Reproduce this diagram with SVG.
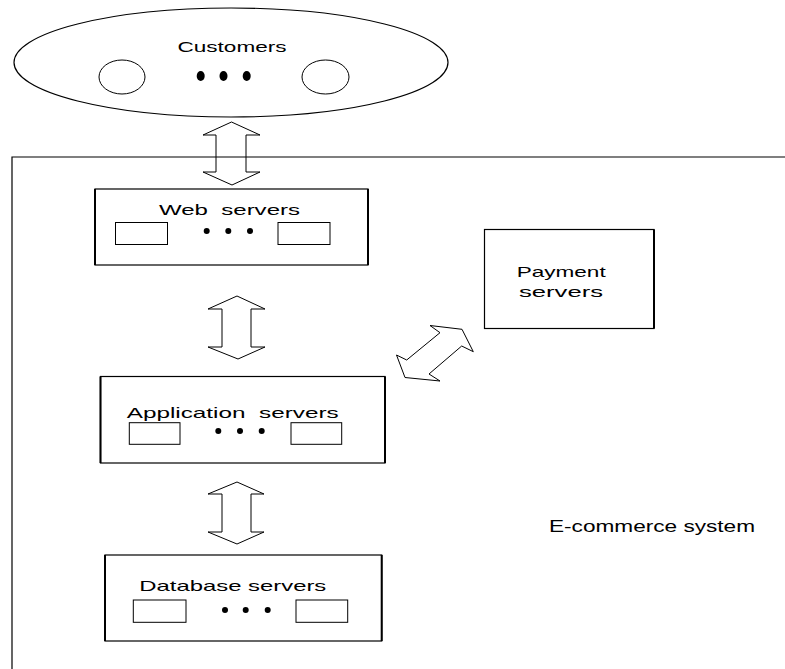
<svg xmlns="http://www.w3.org/2000/svg" width="785" height="669" viewBox="0 0 785 669">
<style>
.ln{fill:none;stroke:#000;stroke-width:1.2}
.sd{fill:none;stroke:#000;stroke-width:2}
.sm{fill:#fff;stroke:#000;stroke-width:1}
.ar{fill:none;stroke:#000;stroke-width:1}
.dot{fill:#000}
.t{font-family:"Liberation Sans",Arial,sans-serif;fill:#000;white-space:pre}
</style>
<rect width="785" height="669" fill="#fff"/>
<g id="system">
<polyline class="ln" points="785,157 12,157 12,669"/>
<text class="t" x="549" y="532" font-size="17" textLength="206" lengthAdjust="spacingAndGlyphs">E-commerce system</text>
</g>
<g id="customers">
<ellipse class="ln" cx="231" cy="62.5" rx="217" ry="54.5"/>
<text class="t" x="177.5" y="52" font-size="14" textLength="109" lengthAdjust="spacingAndGlyphs">Customers</text>
<ellipse class="sm" cx="122" cy="77" rx="23" ry="17"/>
<ellipse class="sm" cx="325.5" cy="77" rx="23.5" ry="17"/>
<ellipse class="dot" cx="200.7" cy="76" rx="4" ry="5"/>
<ellipse class="dot" cx="223.5" cy="76" rx="4" ry="5"/>
<ellipse class="dot" cx="246.7" cy="76" rx="4" ry="5"/>
</g>
<g id="web">
<rect class="ln" x="95" y="189" width="273" height="76"/>
<line class="sd" x1="95" y1="189" x2="95" y2="265"/>
<line class="sd" x1="368" y1="189" x2="368" y2="265"/>
<text class="t" x="159" y="215" font-size="15" textLength="141" lengthAdjust="spacingAndGlyphs" xml:space="preserve">Web  servers</text>
<rect class="sm" x="115.5" y="222.5" width="52" height="22"/>
<rect class="sm" x="278" y="222.5" width="52" height="22"/>
<circle class="dot" cx="206.7" cy="231" r="3"/>
<circle class="dot" cx="228.3" cy="231" r="3"/>
<circle class="dot" cx="250" cy="231" r="3"/>
</g>
<g id="payment">
<rect class="ln" x="484.5" y="229.5" width="169.5" height="99"/>
<line class="sd" x1="654" y1="229.5" x2="654" y2="328.5"/>
<text class="t" x="516.7" y="277" font-size="15" textLength="89" lengthAdjust="spacingAndGlyphs">Payment</text>
<text class="t" x="519" y="297" font-size="15" textLength="84" lengthAdjust="spacingAndGlyphs">servers</text>
</g>
<g id="application">
<rect class="ln" x="100.5" y="376.5" width="284.5" height="86.5"/>
<line class="sd" x1="100.5" y1="376.5" x2="100.5" y2="463"/>
<line class="sd" x1="385" y1="376.5" x2="385" y2="463"/>
<text class="t" x="126.7" y="417.5" font-size="15" textLength="212" lengthAdjust="spacingAndGlyphs" xml:space="preserve">Application  servers</text>
<rect class="sm" x="129.3" y="422.7" width="50.7" height="21.6"/>
<rect class="sm" x="291" y="422.7" width="50.7" height="21.6"/>
<circle class="dot" cx="218.3" cy="431" r="3"/>
<circle class="dot" cx="240" cy="431" r="3"/>
<circle class="dot" cx="261.7" cy="431" r="3"/>
</g>
<g id="database">
<rect class="ln" x="105" y="555" width="276.7" height="86"/>
<line class="sd" x1="105" y1="555" x2="105" y2="641"/>
<line class="sd" x1="381.7" y1="555" x2="381.7" y2="641"/>
<text class="t" x="139.3" y="590.5" font-size="15" textLength="187" lengthAdjust="spacingAndGlyphs">Database servers</text>
<rect class="sm" x="133.3" y="600" width="52.7" height="22.3"/>
<rect class="sm" x="296" y="600" width="51.7" height="22.3"/>
<circle class="dot" cx="225" cy="610" r="3"/>
<circle class="dot" cx="245.7" cy="610" r="3"/>
<circle class="dot" cx="267.7" cy="610" r="3"/>
</g>
<g id="connectors">
<path class="ar" d="M231.5,122 L260,135 L246,135 L246,172 L260,172 L232,185 L203,172 L216,172 L216,135 L203,135 Z"/>
<path class="ar" d="M237,296 L265,309 L251,309 L251,347 L265,347 L238,359 L208,347 L222,347 L222,309 L208,309 Z"/>
<path class="ar" d="M237,482 L264,494 L251,494 L251,532 L264,532 L237,544 L208,532 L222,532 L222,494 L208,494 Z"/>
<path class="ar" d="M406.7,360 L440,332.7 L430,325.5 L462,329.3 L473.3,351.7 L461.7,346 L429,374 L440,381 L405,377.5 L396.5,355 Z"/>
</g>
</svg>
